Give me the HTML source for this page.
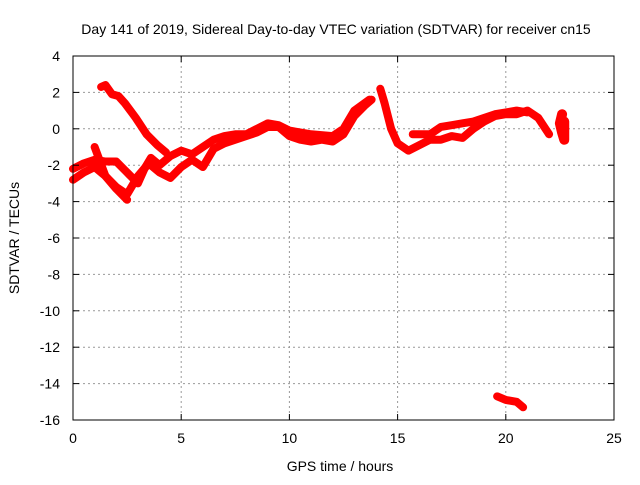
<!DOCTYPE html>
<html><head><meta charset="utf-8"><style>
body{margin:0;background:#fff}
svg text{font-family:"Liberation Sans",sans-serif;font-size:14px;fill:#000}
</style></head><body>
<svg id="chart" width="640" height="480">
<text x="336" y="34" text-anchor="middle">Day 141 of 2019, Sidereal Day-to-day VTEC variation (SDTVAR) for receiver cn15</text>
<g id="grid"></g><g id="marks"></g><g id="axes"></g>
<text x="340" y="471" text-anchor="middle">GPS time / hours</text>
<text transform="translate(19,238) rotate(-90)" text-anchor="middle">SDTVAR / TECUs</text>
</svg>
<script>
const xTicks=[0,5,10,15,20,25];
const yTicks=[4,2,0,-2,-4,-6,-8,-10,-12,-14,-16];
const seriesA=[[1.3,2.3],[1.5,2.4],[1.8,1.9],[2.1,1.8],[2.4,1.4],[2.9,0.6],[3.4,-0.3],[3.9,-0.9],[4.3,-1.3]];
const seriesB=[[0,-2.8],[0.5,-2.4],[1.0,-2.1],[1.5,-2.6],[2.0,-3.2],[2.5,-3.6],[3.0,-2.6],[3.5,-1.9],[4.0,-2.4],[4.5,-2.7],[5,-2.1],[5.5,-1.7],[6,-2.1],[6.5,-1.1],[7,-0.8],[7.5,-0.6],[8,-0.4],[8.5,-0.2],[9,0.1],[9.5,0.1],[10,-0.4],[10.5,-0.6],[11,-0.7],[11.5,-0.6],[12,-0.7],[12.5,-0.3],[13,0.7],[13.5,1.3],[13.8,1.6]];
const seriesC=[[0,-2.2],[0.5,-1.9],[1.0,-1.7],[1.5,-1.8],[2,-1.8],[2.5,-2.4],[3,-3.0],[3.3,-2.2],[3.6,-1.6],[4,-2.0],[4.5,-1.5],[5,-1.2],[5.5,-1.4],[6,-1.0],[6.5,-0.6],[7,-0.4],[7.5,-0.3],[8,-0.3],[8.5,0],[9,0.3],[9.5,0.2],[10,-0.1],[11,-0.3],[12,-0.4],[12.5,0],[13,1.0],[13.7,1.6]];
const seriesD=[[1.0,-1.0],[1.5,-2.6],[2.0,-3.3],[2.5,-3.9]];
const seriesE=[[14.2,2.2],[14.4,1.4],[14.7,0],[15,-0.8],[15.5,-1.2],[16,-0.9],[16.5,-0.6],[17,-0.6],[17.5,-0.4],[18,-0.5],[18.5,0],[19,0.4],[19.5,0.7],[20,0.8],[20.5,0.8],[21,1.0],[21.5,0.6],[22,-0.3]];
const seriesF=[[15.7,-0.3],[16.5,-0.3],[17,0.1],[17.5,0.2],[18,0.3],[18.5,0.4],[19,0.6],[19.5,0.8],[20,0.9],[20.5,1.0],[21,0.9]];
const seriesG=[[22.6,0.8],[22.5,0.3],[22.6,-0.2],[22.7,-0.6],[22.7,0.4]];
const seriesH=[[19.6,-14.7],[20,-14.9],[20.5,-15.0],[20.8,-15.3]];
const X=v=>73+v*(541/25), Y=v=>128.8-v*18.2;
const ns="http://www.w3.org/2000/svg";
function mk(t,a,p){const e=document.createElementNS(ns,t);for(const k in a)e.setAttribute(k,a[k]);p.appendChild(e);return e;}
const grid=document.getElementById('grid'),axes=document.getElementById('axes'),marks=document.getElementById('marks');
xTicks.forEach(t=>{
 if(t>0&&t<25){const g=mk('line',{x1:X(t),x2:X(t),y1:56,y2:420,stroke:'#999','stroke-dasharray':'2,3'},grid);
 
 }
 const l=mk('text',{x:X(t),y:443,'text-anchor':'middle'},axes);l.textContent=t;
 
 
 mk('line',{x1:X(t),x2:X(t),y1:420,y2:414,stroke:'#000'},axes);
 mk('line',{x1:X(t),x2:X(t),y1:56,y2:62,stroke:'#000'},axes);
});
yTicks.forEach(t=>{
 if(t<4&&t>-16){const g=mk('line',{x1:73,x2:614,y1:Y(t),y2:Y(t),stroke:'#999','stroke-dasharray':'2,3'},grid);
 
 }
 const l=mk('text',{x:60,y:Y(t)+5,'text-anchor':'end'},axes);l.textContent=t;
 
 
 mk('line',{x1:73,x2:79,y1:Y(t),y2:Y(t),stroke:'#000'},axes);
 mk('line',{x1:608,x2:614,y1:Y(t),y2:Y(t),stroke:'#000'},axes);
});
const fr=mk('rect',{x:73,y:56,width:541,height:364,fill:'none',stroke:'#000'},axes);


[seriesA,seriesB,seriesC,seriesD,seriesE,seriesF,seriesG,seriesH].forEach((s,i)=>{
 const p=mk('polyline',{points:s.map(d=>X(d[0])+','+Y(d[1])).join(' '),fill:'none',stroke:'#ff0000','stroke-width':i==6?10:8,'stroke-linejoin':'round','stroke-linecap':'round'},marks);
 
 
});
</script>
</body></html>
